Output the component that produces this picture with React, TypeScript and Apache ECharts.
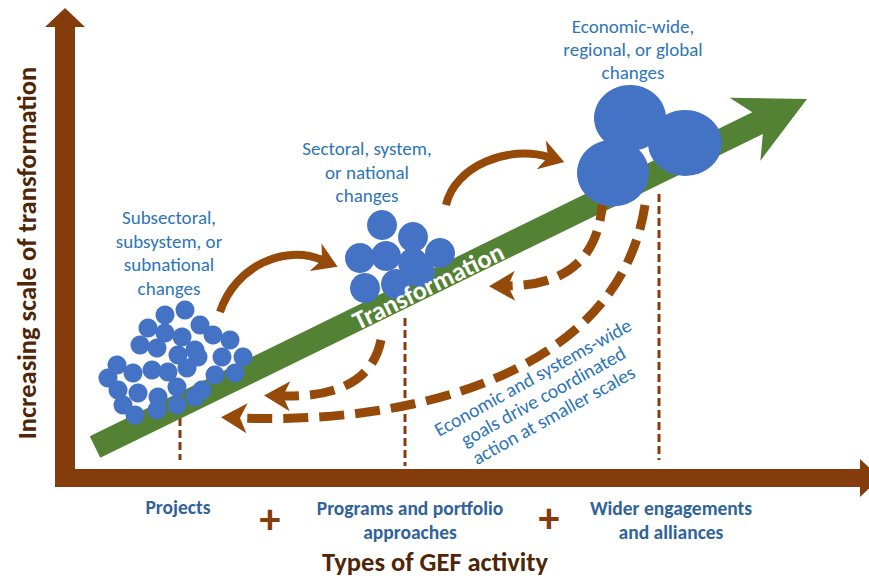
import React, { useEffect, useRef } from "react";
import * as echarts from "echarts";

const W = 869;
const H = 578;

// Circle clusters (diagram coordinates, x right / y down)
const subnationalCircles: number[][] = [
  [165, 315], [185, 310],
  [148, 328], [165, 333], [182, 337], [200, 325], [213, 335], [230, 340],
  [140, 345], [157, 348], [178, 355], [195, 350], [198, 357], [222, 357], [243, 357],
  [117, 365], [133, 373], [152, 370], [168, 372], [187, 368], [215, 375], [235, 373],
  [108, 378], [118, 390], [138, 393], [158, 397], [177, 387], [195, 397], [202, 390],
  [123, 405], [135, 415], [157, 410], [177, 405],
];
const nationalCircles: number[][] = [
  [382, 225], [413, 237], [360, 258], [386, 256], [413, 263], [440, 253],
  [365, 288], [396, 284], [420, 272],
];
const globalCircles: number[][] = [[630, 118], [685, 143], [613, 173]];
const globalSizes: number[][] = [[72, 66], [74, 66], [72, 67]];

const levelLabels = [
  "Subsectoral,\nsubsystem, or\nsubnational\nchanges",
  "Sectoral, system,\nor national\nchanges",
  "Economic-wide,\nregional, or global\nchanges",
];
const activityLabels = ["Projects", "Programs and portfolio\napproaches", "Wider engagements\nand alliances"];
const xTitle = "Types of GEF activity";
const yTitle = "Increasing scale of transformation";
const bandLabel = "Transformation";
const feedbackLabel = "Economic and systems-wide\ngoals drive coordinated\naction at smaller scales";

const BLUE = "#4472C4";
const TXT_BLUE = "#2E75B6";
const LBL_BLUE = "#2F6399";
const AXIS = "#843C0C";
const CURVE = "#954A09";
const GREEN = "#548235";
const DARK = "#4F2608";
const FONT = "Carlito, Lato, 'Open Sans', sans-serif";

type Pt = [number, number];

function arrowHead(tip: Pt, ang: number, len: number, half: number, notch: number): number[][] {
  const c = Math.cos(ang), s = Math.sin(ang);
  const bx = tip[0] - c * len, by = tip[1] - s * len;
  return [
    tip,
    [bx - s * half, by + c * half],
    [tip[0] - c * (len - notch), tip[1] - s * (len - notch)],
    [bx + s * half, by - c * half],
  ];
}

function curvedArrow(p0: Pt, c1: Pt, c2: Pt, p3: Pt, dashed: boolean, width: number, z: number) {
  const ang = Math.atan2(p3[1] - c2[1], p3[0] - c2[0]);
  const len = dashed ? 26 : 24;
  const notch = 7;
  const tip: Pt = [p3[0] + Math.cos(ang) * (len - notch), p3[1] + Math.sin(ang) * (len - notch)];
  return [
    {
      type: "bezierCurve",
      z,
      shape: { x1: p0[0], y1: p0[1], cpx1: c1[0], cpy1: c1[1], cpx2: c2[0], cpy2: c2[1], x2: p3[0], y2: p3[1] },
      style: {
        stroke: CURVE,
        lineWidth: width,
        fill: null,
        lineDash: dashed ? [25, 11] : null,
        lineCap: "butt",
      },
    },
    {
      type: "polygon",
      z,
      shape: { points: arrowHead(tip, ang, len, 15, notch) },
      style: { fill: CURVE },
    },
  ];
}

function textEl(text: string, x: number, y: number, opts: any, z = 20, rotation = 0) {
  return {
    type: "text",
    x,
    y,
    rotation,
    z,
    style: {
      text,
      fill: opts.fill,
      fontSize: opts.size,
      fontWeight: opts.weight || "normal",
      fontFamily: FONT,
      lineHeight: opts.lh || opts.size * 1.2,
      align: "center",
      verticalAlign: "middle",
      textAlign: "center",
      textVerticalAlign: "middle",
    },
  };
}

export default function App() {
  const ref = useRef<HTMLDivElement>(null);
  useEffect(() => {
    if (!ref.current) return;
    const chart = echarts.init(ref.current, null, { renderer: "svg" });

    // green transformation band
    const S: Pt = [95, 447];
    const T: Pt = [807, 99];
    const a = Math.atan2(T[1] - S[1], T[0] - S[0]);
    const L = Math.hypot(T[0] - S[0], T[1] - S[1]);
    const ux = Math.cos(a), uy = Math.sin(a);
    const nx = -uy, ny = ux;
    const P = (s: number, o: number) => [S[0] + ux * s + nx * o, S[1] + uy * s + ny * o];
    const notchS = L - 55;
    const band = [P(0, -12), P(notchS, -12), P(notchS - 14, -35), P(L, 0), P(notchS - 14, 35), P(notchS, 12), P(0, 12)];

    const axisPoly = [
      [55, 27], [45, 27], [65, 8], [85, 27], [75, 27], [75, 469],
      [860, 469], [860, 459], [880, 478], [860, 497], [860, 487], [55, 487],
    ];

    const dotted = (x: number, y1: number, y2: number) => ({
      type: "line",
      z: 2,
      shape: { x1: x, y1, x2: x, y2 },
      style: { stroke: AXIS, lineWidth: 3, lineDash: [8, 4] },
    });

    const graphic: any[] = [
      { type: "polygon", z: 1, shape: { points: axisPoly }, style: { fill: AXIS } },
      dotted(180, 418, 460),
      dotted(405, 318, 466),
      dotted(659, 194, 460),
      { type: "polygon", z: 3, shape: { points: band }, style: { fill: GREEN } },
      ...curvedArrow([220, 312], [235, 266], [285, 244], [322, 260], false, 8, 4),
      ...curvedArrow([446, 205], [455, 165], [510, 145], [548, 157], false, 8, 4),
      ...curvedArrow([603, 196], [600, 265], [560, 285], [508, 286], true, 9, 4),
      ...curvedArrow([381, 340], [372, 385], [330, 397], [283, 396], true, 9, 4),
      ...curvedArrow([645, 205], [620, 370], [420, 425], [240, 418], true, 9, 4),
      textEl(bandLabel, 428, 286, { fill: "#ffffff", size: 26, weight: "bold" }, 20, -a),
      textEl(levelLabels[0], 169, 253, { fill: TXT_BLUE, size: 19, lh: 23.5 }),
      textEl(levelLabels[1], 367, 172, { fill: TXT_BLUE, size: 19, lh: 23.5 }),
      textEl(levelLabels[2], 633, 49, { fill: TXT_BLUE, size: 19, lh: 23 }),
      textEl(feedbackLabel, 543, 396, { fill: TXT_BLUE, size: 19.5, lh: 21.5 }, 20, (29 * Math.PI) / 180),
      textEl(activityLabels[0], 178, 507, { fill: LBL_BLUE, size: 19.5, weight: "bold" }),
      textEl(activityLabels[1], 410, 520, { fill: LBL_BLUE, size: 19.5, weight: "bold", lh: 24 }),
      textEl(activityLabels[2], 671, 520, { fill: LBL_BLUE, size: 19.5, weight: "bold", lh: 24 }),
      textEl("+", 270, 518, { fill: AXIS, size: 42, weight: "bold" }),
      textEl("+", 549, 517, { fill: AXIS, size: 42, weight: "bold" }),
      textEl(xTitle, 435, 562, { fill: DARK, size: 26.5, weight: "bold" }),
      textEl(yTitle, 27, 253, { fill: DARK, size: 26.5, weight: "bold" }, 20, Math.PI / 2),
    ];

    chart.setOption({
      animation: false,
      backgroundColor: "#ffffff",
      grid: { left: 0, right: 0, top: 0, bottom: 0, containLabel: false },
      xAxis: { type: "value", min: 0, max: W, show: false },
      yAxis: { type: "value", min: 0, max: H, inverse: true, show: false },
      series: [
        {
          type: "scatter",
          data: subnationalCircles,
          symbolSize: 19,
          itemStyle: { color: BLUE, opacity: 1 },
          z: 5,
          silent: true,
        },
        {
          type: "scatter",
          data: nationalCircles,
          symbolSize: 30,
          itemStyle: { color: BLUE, opacity: 1 },
          z: 5,
          silent: true,
        },
        {
          type: "scatter",
          data: globalCircles.map((v, i) => ({ value: v, symbolSize: globalSizes[i] })),
          itemStyle: { color: BLUE, opacity: 1 },
          z: 5,
          silent: true,
        },
      ],
      graphic,
    });
    return () => chart.dispose();
  }, []);
  return (
    <div
      ref={ref}
      style={{ position: "fixed", left: 0, top: 0, width: W, height: H, background: "#fff" }}
    />
  );
}
